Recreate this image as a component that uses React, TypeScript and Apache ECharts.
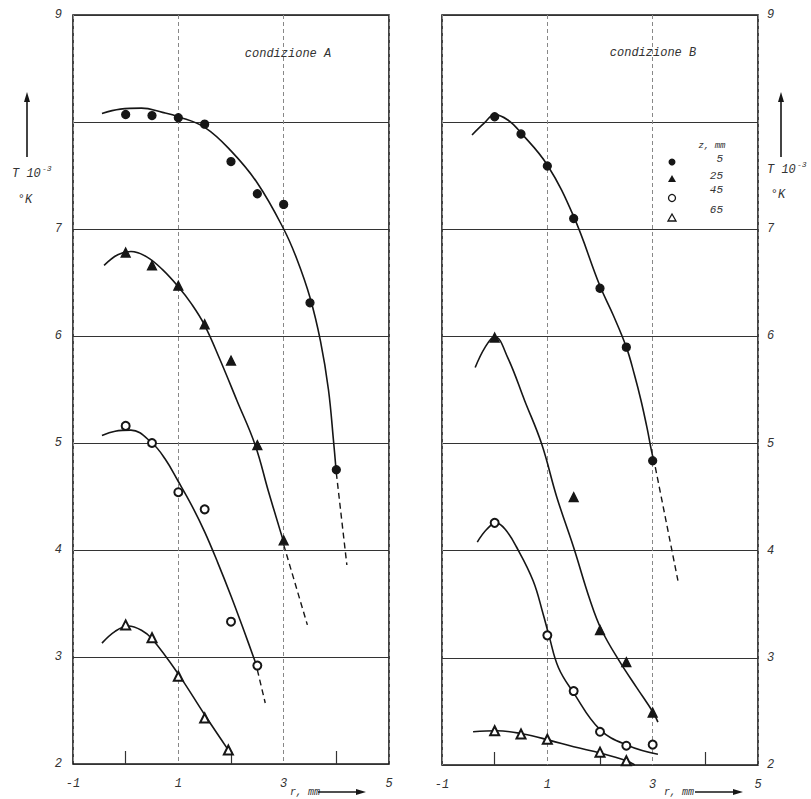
import React, { useEffect, useRef } from 'react';
import * as echarts from 'echarts';

// ---------- axes ----------
const xTickLabels = [-1, 1, 3, 5];
const yTickLabels = [9, 7, 6, 5, 4, 3, 2];
const legendValues = ['5', '25', '45', '65'];

// ---------- condizione A : measured points (r mm, T·10^-3 K) ----------
const A5_r = [0, 0.5, 1, 1.5, 2, 2.5, 3, 3.5, 4];
const A5_T = [8.07, 8.06, 8.04, 7.98, 7.63, 7.33, 7.23, 6.31, 4.75];
const A25_r = [0, 0.5, 1, 1.5, 2, 2.5, 3];
const A25_T = [6.78, 6.66, 6.47, 6.11, 5.77, 4.98, 4.09];
const A45_r = [0, 0.5, 1, 1.5, 2, 2.5];
const A45_T = [5.16, 5.0, 4.54, 4.38, 3.33, 2.92];
const A65_r = [0, 0.5, 1, 1.5, 1.95];
const A65_T = [3.3, 3.18, 2.82, 2.43, 2.13];

// ---------- condizione A : fitted curves ----------
const A5_curve = [[-0.45, 8.08], [-0.1, 8.12], [0.3, 8.13], [0.7, 8.09], [1, 8.05], [1.5, 7.95], [2, 7.73], [2.5, 7.43], [3, 7.0], [3.25, 6.72], [3.5, 6.36], [3.7, 5.95], [3.85, 5.5], [3.95, 5.0], [4.0, 4.72]];
const A5_ext = [[4.0, 4.72], [4.2, 3.86]];
const A25_curve = [[-0.41, 6.66], [-0.15, 6.76], [0.1, 6.79], [0.4, 6.74], [0.7, 6.62], [1, 6.46], [1.25, 6.3], [1.5, 6.1], [1.79, 5.78], [2.11, 5.4], [2.46, 4.98], [2.71, 4.55], [2.99, 4.09]];
const A25_ext = [[3.0, 4.05], [3.45, 3.3]];
const A45_curve = [[-0.45, 5.07], [-0.2, 5.11], [0.1, 5.12], [0.5, 5.0], [0.75, 4.85], [1.0, 4.64], [1.25, 4.42], [1.5, 4.17], [1.75, 3.88], [2.0, 3.57], [2.25, 3.24], [2.5, 2.9]];
const A45_ext = [[2.5, 2.88], [2.65, 2.57]];
const A65_curve = [[-0.45, 3.13], [-0.2, 3.24], [0.05, 3.29], [0.3, 3.25], [0.5, 3.17], [1, 2.84], [1.5, 2.46], [1.95, 2.13]];

// ---------- condizione B : measured points ----------
const B5_r = [0, 0.5, 1, 1.5, 2, 2.5, 3];
const B5_T = [8.05, 7.89, 7.59, 7.1, 6.45, 5.9, 4.84];
const B25_r = [0, 1.5, 2, 2.5, 3];
const B25_T = [5.99, 4.5, 3.26, 2.96, 2.49];
const B45_r = [0, 1, 1.5, 2, 2.5, 3];
const B45_T = [4.26, 3.21, 2.69, 2.31, 2.18, 2.19];
const B65_r = [0, 0.5, 1, 2, 2.5];
const B65_T = [2.32, 2.29, 2.24, 2.12, 2.04];

// ---------- condizione B : fitted curves ----------
const B5_curve = [[-0.43, 7.88], [-0.2, 7.99], [0.0, 8.07], [0.25, 8.02], [0.5, 7.9], [1, 7.6], [1.5, 7.12], [2, 6.47], [2.25, 6.2], [2.5, 5.9], [2.65, 5.65], [2.78, 5.4], [2.9, 5.13], [2.97, 4.95], [3.02, 4.84]];
const B5_ext = [[3.05, 4.78], [3.48, 3.72]];
const B25_curve = [[-0.37, 5.71], [-0.18, 5.9], [0.0, 6.0], [0.25, 5.8], [0.57, 5.4], [0.89, 5.0], [1.18, 4.5], [1.5, 4.03], [1.81, 3.54], [2.03, 3.26], [2.38, 2.96], [2.7, 2.72], [3.01, 2.49], [3.1, 2.4]];
const B45_curve = [[-0.33, 4.08], [-0.15, 4.2], [0.03, 4.26], [0.2, 4.2], [0.42, 4.03], [0.73, 3.72], [0.92, 3.41], [1.03, 3.21], [1.21, 2.91], [1.49, 2.68], [2.0, 2.33], [2.54, 2.18], [3.1, 2.1]];
const B65_curve = [[-0.41, 2.31], [0.04, 2.32], [0.54, 2.29], [1.05, 2.23], [1.5, 2.17], [2.02, 2.11], [2.5, 2.04], [2.66, 2.0]];

const FONT = "'Liberation Mono', 'DejaVu Sans Mono', monospace";
const INK = '#161616';

const zip = (xs: number[], ys: number[]) => xs.map((x, i) => [x, ys[i]]);

function curve(name: string, data: number[][], gi: number) {
  return {
    type: 'line', name, data, xAxisIndex: gi, yAxisIndex: gi,
    smooth: 0.4, symbol: 'none', showSymbol: false, silent: true, z: 3,
    lineStyle: { color: INK, width: 1.6 },
  };
}
function ext(name: string, data: number[][], gi: number) {
  return {
    type: 'line', name, data, xAxisIndex: gi, yAxisIndex: gi,
    symbol: 'none', showSymbol: false, silent: true, z: 3,
    lineStyle: { color: INK, width: 1.4, type: [6, 4] },
  };
}
function pts(name: string, data: number[][], gi: number, symbol: string, size: number) {
  return {
    type: 'scatter', name, data, xAxisIndex: gi, yAxisIndex: gi,
    symbol, symbolSize: size, z: 5,
    itemStyle: { color: INK, borderColor: INK, borderWidth: 1.3, opacity: 1 },
  };
}

function xAxis(gi: number) {
  return {
    type: 'value', gridIndex: gi, min: -1, max: 5, interval: 2,
    axisLine: { show: false },
    axisTick: { show: false, inside: true },
    minorTick: { show: true, splitNumber: 2, length: 13, lineStyle: { color: '#333', width: 1.2 } },
    axisLabel: {
      fontFamily: FONT, fontStyle: 'italic', fontSize: 12, color: '#333', margin: 14,
      formatter: (v: number) => (xTickLabels.includes(v) ? String(v) : ''),
    },
    splitLine: { show: true, lineStyle: { color: '#888', width: 1, type: [4, 3] } },
  };
}
function yAxis(gi: number, pos: string) {
  return {
    type: 'value', gridIndex: gi, min: 2, max: 9, interval: 1, position: pos,
    axisLine: { show: false }, axisTick: { show: false },
    axisLabel: {
      fontFamily: FONT, fontStyle: 'italic', fontSize: 12, color: '#333', margin: pos === 'left' ? 11 : 9,
      formatter: (v: number) => (yTickLabels.includes(v) ? String(v) : ''),
    },
    splitLine: { show: true, lineStyle: { color: '#333', width: 1.2 } },
  };
}

function txt(x: number, y: number, text: string, size = 12, align = 'center') {
  return {
    type: 'text', x, y, silent: true,
    style: { text, fontFamily: FONT, fontStyle: 'italic', fontSize: size, fill: '#333', align, verticalAlign: 'middle' },
  };
}
function arrowUp(x: number, y1: number, y2: number) {
  return [
    { type: 'line', silent: true, shape: { x1: x, y1, x2: x, y2: y2 + 6 }, style: { stroke: INK, lineWidth: 1.6 } },
    { type: 'polygon', silent: true, shape: { points: [[x, y2], [x - 3, y2 + 10], [x + 3, y2 + 10]] }, style: { fill: INK } },
  ];
}
function arrowRight(x1: number, x2: number, y: number) {
  return [
    { type: 'line', silent: true, shape: { x1, y1: y, x2: x2 - 6, y2: y }, style: { stroke: INK, lineWidth: 1.6 } },
    { type: 'polygon', silent: true, shape: { points: [[x2, y], [x2 - 10, y - 3], [x2 - 10, y + 3]] }, style: { fill: INK } },
  ];
}

export default function App() {
  const ref = useRef<HTMLDivElement>(null);
  useEffect(() => {
    if (!ref.current) return;
    const chart = echarts.init(ref.current, undefined, { renderer: 'svg' });
    const legendX = 672;
    const option = {
      animation: false,
      backgroundColor: '#ffffff',
      grid: [
        { left: 73, top: 15, width: 316, height: 749, show: true, borderColor: INK, borderWidth: 1.6, backgroundColor: 'transparent' },
        { left: 442, top: 15, width: 316, height: 750, show: true, borderColor: INK, borderWidth: 1.6, backgroundColor: 'transparent' },
      ],
      xAxis: [xAxis(0), xAxis(1)],
      yAxis: [yAxis(0, 'left'), yAxis(1, 'right')],
      series: [
        curve('A z=5 fit', A5_curve, 0), ext('A z=5 ext', A5_ext, 0),
        curve('A z=25 fit', A25_curve, 0), ext('A z=25 ext', A25_ext, 0),
        curve('A z=45 fit', A45_curve, 0), ext('A z=45 ext', A45_ext, 0),
        curve('A z=65 fit', A65_curve, 0),
        pts('A z=5 mm', zip(A5_r, A5_T), 0, 'circle', 8),
        pts('A z=25 mm', zip(A25_r, A25_T), 0, 'triangle', 9),
        pts('A z=45 mm', zip(A45_r, A45_T), 0, 'emptyCircle', 8),
        pts('A z=65 mm', zip(A65_r, A65_T), 0, 'emptyTriangle', 9),
        curve('B z=5 fit', B5_curve, 1), ext('B z=5 ext', B5_ext, 1),
        curve('B z=25 fit', B25_curve, 1),
        curve('B z=45 fit', B45_curve, 1),
        curve('B z=65 fit', B65_curve, 1),
        pts('B z=5 mm', zip(B5_r, B5_T), 1, 'circle', 8),
        pts('B z=25 mm', zip(B25_r, B25_T), 1, 'triangle', 9),
        pts('B z=45 mm', zip(B45_r, B45_T), 1, 'emptyCircle', 8),
        pts('B z=65 mm', zip(B65_r, B65_T), 1, 'emptyTriangle', 9),
      ],
      graphic: [
        txt(288, 54, 'condizione A'),
        txt(653, 53, 'condizione B'),
        // left y title
        ...arrowUp(27, 157, 92),
        txt(12, 174, 'T 10', 12, 'left'),
        txt(42, 168, '-3', 8, 'left'),
        txt(25, 200, '°K', 12, 'center'),
        // right y title
        ...arrowUp(781, 157, 92),
        txt(767, 170, 'T 10', 12, 'left'),
        txt(797, 164, '-3', 8, 'left'),
        txt(778, 195, '°K', 12, 'center'),
        // x titles
        txt(290, 792, 'r, mm', 10, 'left'),
        ...arrowRight(318, 366, 792),
        txt(664, 792, 'r, mm', 10, 'left'),
        ...arrowRight(695, 743, 792),
        // legend
        txt(712, 146, 'z, mm', 9, 'center'),
        { type: 'circle', silent: true, shape: { cx: legendX, cy: 162, r: 3.5 }, style: { fill: INK } },
        { type: 'polygon', silent: true, shape: { points: [[legendX, 175], [legendX - 4, 182], [legendX + 4, 182]] }, style: { fill: INK } },
        { type: 'circle', silent: true, shape: { cx: legendX, cy: 198, r: 3.5 }, style: { fill: '#fff', stroke: INK, lineWidth: 1.3 } },
        { type: 'polygon', silent: true, shape: { points: [[legendX, 214], [legendX - 4, 221], [legendX + 4, 221]] }, style: { fill: '#fff', stroke: INK, lineWidth: 1.3 } },
        txt(723, 159, legendValues[0], 11, 'right'),
        txt(723, 176, legendValues[1], 11, 'right'),
        txt(723, 190, legendValues[2], 11, 'right'),
        txt(723, 210, legendValues[3], 11, 'right'),
      ],
    };
    chart.setOption(option as any);
    return () => chart.dispose();
  }, []);
  return <div ref={ref} style={{ position: 'absolute', left: 0, top: 0, width: 811, height: 799 }} />;
}
